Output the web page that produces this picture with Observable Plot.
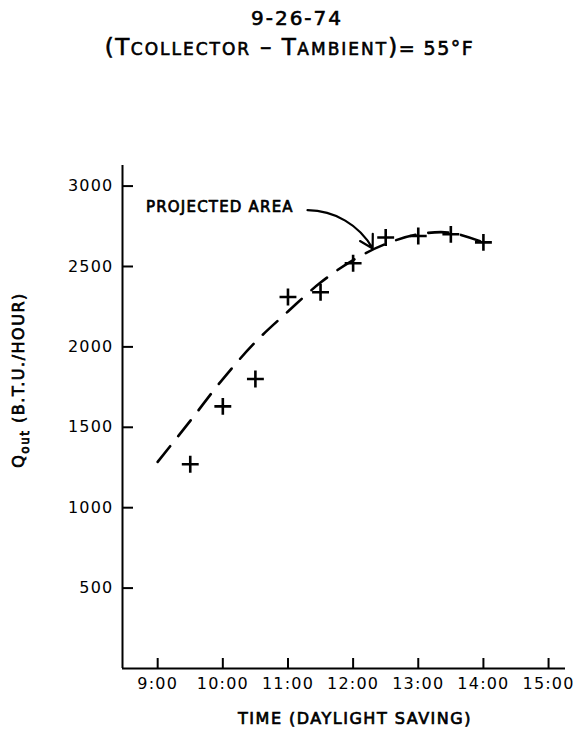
<!DOCTYPE html>
<html>
<head>
<meta charset="utf-8">
<script src="https://cdn.jsdelivr.net/npm/d3@7"></script>
<script src="https://cdn.jsdelivr.net/npm/@observablehq/plot@0.6"></script>
<style>
  html, body { margin: 0; padding: 0; background: #fff; }
  body { width: 579px; height: 730px; overflow: hidden; font-family: "DejaVu Sans", sans-serif; color: #000; }
  #head { position: relative; height: 150px; width: 579px; }
  .line1 { position: absolute; left: 0; width: 594px; text-align: center; top: 8px; font-size: 20px; line-height: 20px; letter-spacing: 2px; -webkit-text-stroke: 0.6px #000; }
  .line2 { position: absolute; left: 0; width: 579px; text-align: center; top: 34px; font-size: 23px; line-height: 26px; letter-spacing: 1.5px; white-space: nowrap; -webkit-text-stroke: 0.6px #000; }
  .sc { font-size: 17px; letter-spacing: 2px; }
  .sm { font-size: 19px; }
  #chart svg text { letter-spacing: 1.2px; }
</style>
</head>
<body>
<div id="head">
  <div class="line1">9-26-74</div>
  <div class="line2">(T<span class="sc">COLLECTOR</span> – T<span class="sc">AMBIENT</span>)<span class="sm">= 55°F</span></div>
</div>
<div id="chart"></div>
<script>
// ---- data ----
const measTimes = [9.5, 10, 10.5, 11, 11.5, 12, 12.5, 13, 13.5, 14];
const measQ = [1270, 1630, 1800, 2310, 2340, 2520, 2680, 2690, 2700, 2650];
const curveTimes = [9, 9.5, 10, 10.5, 11, 11.5, 12, 12.5, 13, 13.5, 14];
const curveQ = [1285, 1540, 1800, 2030, 2220, 2400, 2540, 2640, 2700, 2710, 2650];
const xTickValues = [9, 10, 11, 12, 13, 14, 15];
const xTickLabels = ["9:00", "10:00", "11:00", "12:00", "13:00", "14:00", "15:00"];
const yTickValues = [500, 1000, 1500, 2000, 2500, 3000];
const yTickLabels = ["500", "1000", "1500", "2000", "2500", "3000"];
const xDomain = [8.46, 15.26];
const yDomain = [0, 3128];
const annotText = ["PROJECTED AREA"];
const annotTextPos = [{t: 8.82, q: 2866}];
const annotArrow = [{t1: 11.3, q1: 2850, t2: 12.30, q2: 2612}];

// ---- build ----
const measured = measTimes.map((t, i) => ({t, q: measQ[i]}));
const curve = curveTimes.map((t, i) => ({t, q: curveQ[i]}));
const W = 579, H = 580;
const mL = 122, mR = 14, mT = 15, mB = 62;
const plotW = W - mL - mR, plotH = H - mT - mB;

const chart = Plot.plot({
  width: W, height: H,
  marginLeft: mL, marginRight: mR, marginTop: mT, marginBottom: mB,
  style: {fontFamily: "DejaVu Sans, sans-serif", fontSize: "16px", color: "#000", background: "#fff", overflow: "visible"},
  x: {domain: xDomain},
  y: {domain: yDomain},
  marks: [
    Plot.ruleX([xDomain[0]], {x: d => d, stroke: "#000", strokeWidth: 2}),
    Plot.ruleY([yDomain[0]], {y: d => d, stroke: "#000", strokeWidth: 2}),
    Plot.tickY(yTickValues, {y: d => d, insetRight: plotW - 11, stroke: "#000", strokeWidth: 2}),
    Plot.tickX(xTickValues, {x: d => d, insetTop: plotH - 10, stroke: "#000", strokeWidth: 2}),
    Plot.axisY(yTickValues, {tickSize: 0, tickPadding: 9, tickFormat: d => yTickLabels[yTickValues.indexOf(d)], label: null, fill: "#000", stroke: "#000", strokeWidth: 0.7}),
    Plot.axisX(xTickValues, {tickSize: 0, tickPadding: 9, tickFormat: d => xTickLabels[xTickValues.indexOf(d)], label: null, fill: "#000", stroke: "#000", strokeWidth: 0.7}),
    Plot.line(curve, {x: "t", y: "q", curve: "catmull-rom", stroke: "#000", strokeWidth: 2.6, strokeDasharray: "20,13"}),
    Plot.dot(measured, {x: "t", y: "q", symbol: "plus", r: 5.5, stroke: "#000", strokeWidth: 2.6}),
    Plot.text(annotTextPos, {x: "t", y: "q", text: () => annotText[0], textAnchor: "start", fill: "#000", stroke: "#000", strokeWidth: 0.7, fontSize: 15}),
    Plot.arrow(annotArrow, {x1: "t1", y1: "q1", x2: "t2", y2: "q2", bend: 30, headLength: 10, stroke: "#000", strokeWidth: 2.2})
  ]
});
document.getElementById("chart").appendChild(chart);

// axis titles
const svg = d3.select(chart);
const yl = svg.append("text")
  .attr("transform", "translate(24,230) rotate(-90)")
  .attr("text-anchor", "middle")
  .attr("font-family", "DejaVu Sans, sans-serif")
  .attr("font-size", 16)
  .attr("fill", "#000").attr("stroke", "#000").attr("stroke-width", 0.7)
  .style("letter-spacing", "1.5px");
yl.append("tspan").text("Q");
yl.append("tspan").attr("font-size", 12).attr("dy", 5).text("out");
yl.append("tspan").attr("dy", -5).text(" (B.T.U./HOUR)");

svg.append("text")
  .attr("x", 355).attr("y", 574)
  .attr("text-anchor", "middle")
  .attr("font-family", "DejaVu Sans, sans-serif")
  .attr("font-size", 16)
  .attr("fill", "#000").attr("stroke", "#000").attr("stroke-width", 0.7)
  .style("letter-spacing", "1.5px")
  .text("TIME (DAYLIGHT SAVING)");
</script>
</body>
</html>
